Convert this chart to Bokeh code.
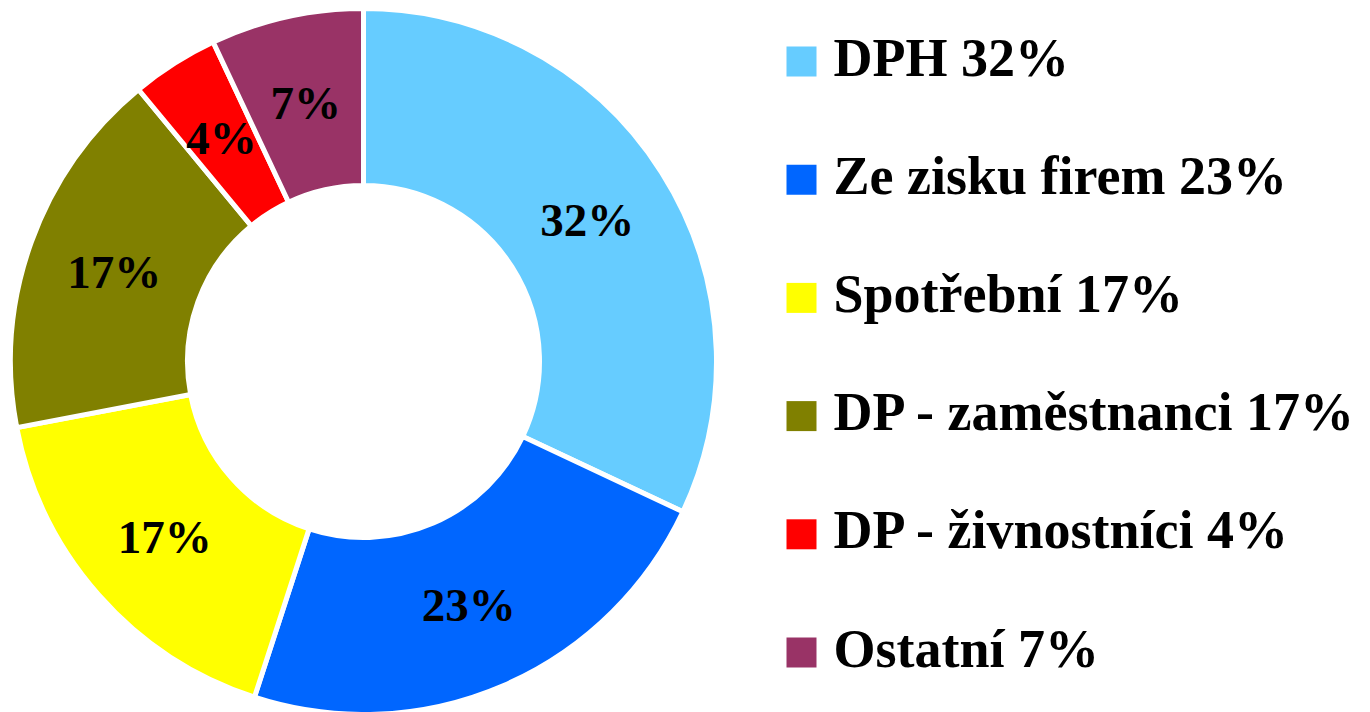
import math
from bokeh.plotting import figure
from bokeh.models import Range1d, ColumnDataSource
from bokeh.core.properties import value
from bokeh.embed import file_html
from bokeh.resources import INLINE

categories = ["DPH", "Ze zisku firem", "Spotřební", "DP - zaměstnanci", "DP - živnostníci", "Ostatní"]
shares = [32, 23, 17, 17, 4, 7]
colors = ["#66CCFF", "#0066FF", "#FFFF00", "#808000", "#FF0000", "#993366"]

W, H = 1370, 712
p = figure(width=W, height=H, x_range=Range1d(0, W), y_range=Range1d(0, H),
           output_backend="svg", toolbar_location=None, min_border=0)
p.axis.visible = False
p.grid.visible = False
p.outline_line_color = None
p.background_fill_color = "white"
p.border_fill_color = "white"

cx, cy = 363, H - 361
r_out, r_in = 353, 176
total = sum(shares)
starts, ends, lx, ly, labels = [], [], [], [], []
cum = 0
for s in shares:
    a0 = math.pi / 2 - 2 * math.pi * cum / total
    a1 = math.pi / 2 - 2 * math.pi * (cum + s) / total
    starts.append(a1)
    ends.append(a0)
    mid = (a0 + a1) / 2
    lx.append(cx + 265 * math.cos(mid))
    ly.append(cy + 265 * math.sin(mid))
    labels.append(f"{s}%")
    cum += s

src = ColumnDataSource(dict(start=starts, end=ends, color=colors, lx=lx, ly=ly, label=labels))
p.annular_wedge(x=cx, y=cy, inner_radius=r_in, outer_radius=r_out,
                start_angle="start", end_angle="end", fill_color="color",
                line_color="white", line_width=5, source=src)
p.text(x="lx", y="ly", text="label", source=src, text_align="center", text_baseline="middle",
       text_font=value("Liberation Serif"), text_font_style="bold", text_font_size="47px",
       text_color="black")

row_c = [61 + i * 118.2 for i in range(len(categories))]
leg_text = [f"{c} {s}%" for c, s in zip(categories, shares)]
lsrc = ColumnDataSource(dict(y=[H - r for r in row_c], ty=[H - (r - 4) for r in row_c],
                             color=colors, text=leg_text, x=[801] * 6, tx=[833] * 6))
p.rect(x="x", y="y", width=30, height=30, fill_color="color", line_color=None, source=lsrc)
p.text(x="tx", y="ty", text="text", source=lsrc, text_align="left", text_baseline="alphabetic",
       text_font=value("Liberation Serif"), text_font_style="bold", text_font_size="54px",
       text_color="black")

open("out.html", "w").write(file_html(p, INLINE))
